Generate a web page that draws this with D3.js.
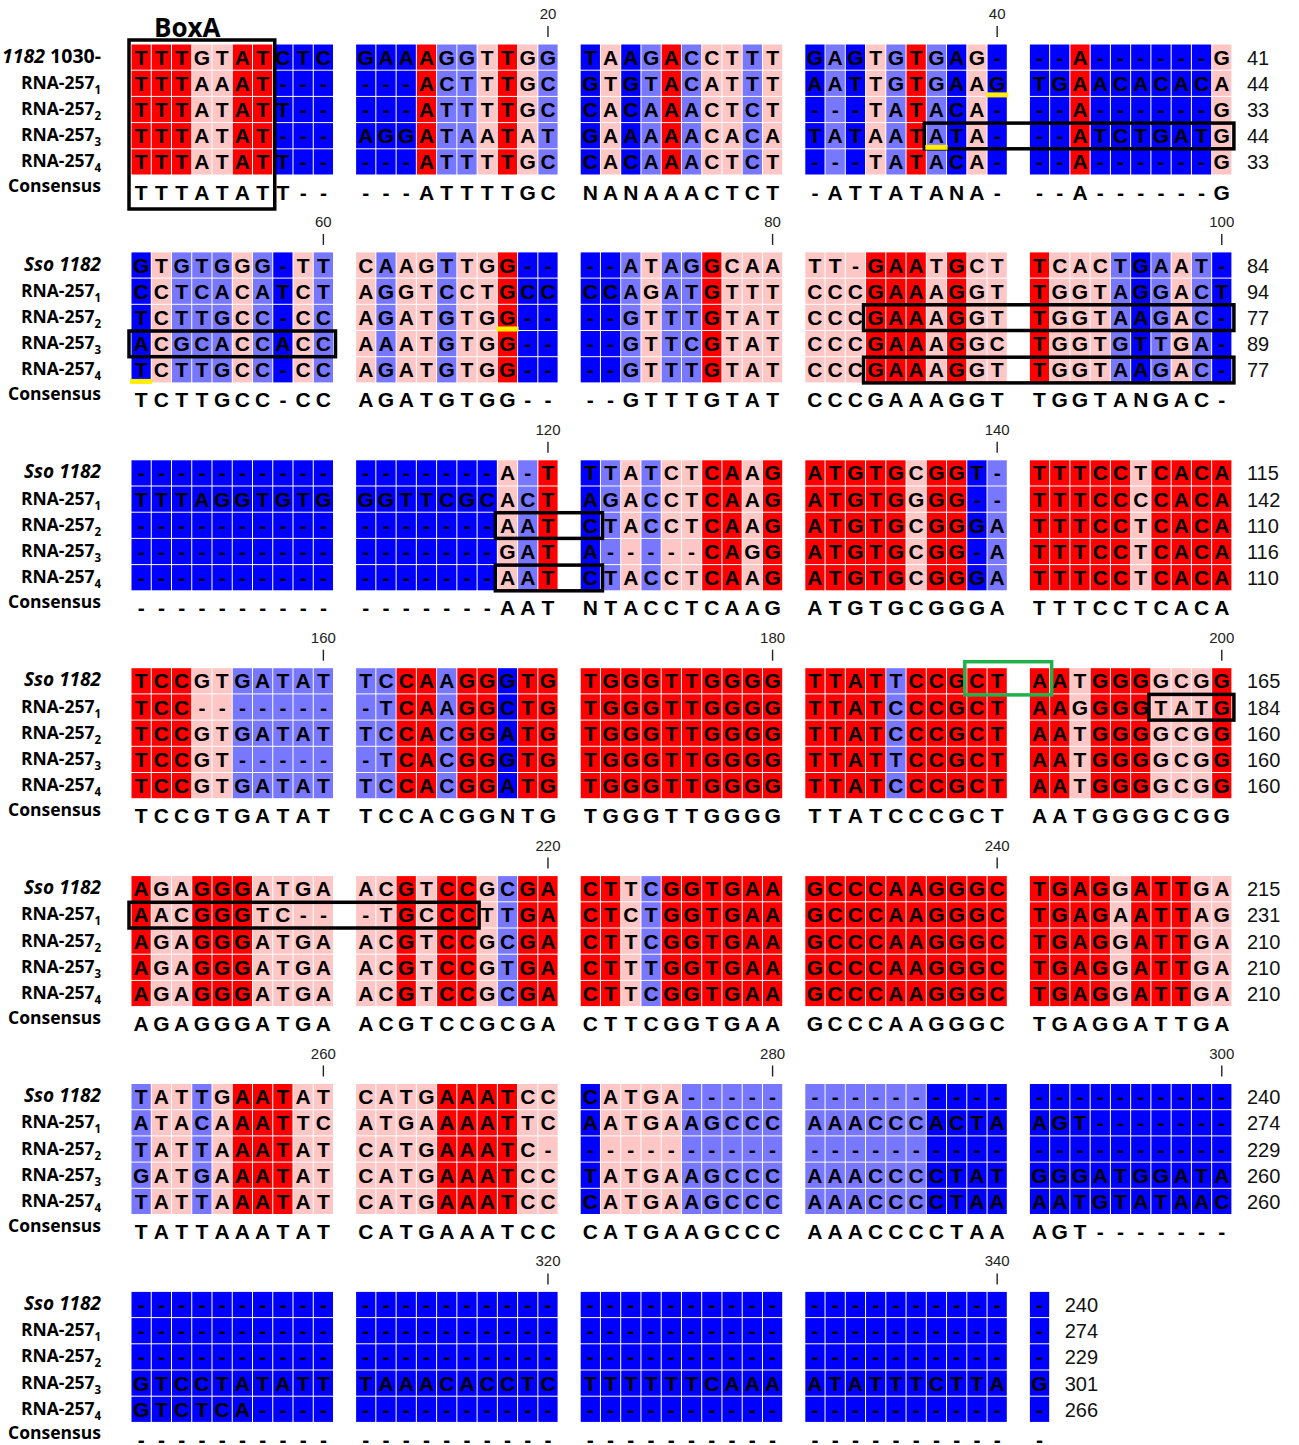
<!DOCTYPE html>
<html>
<head>
<meta charset="utf-8">
<script src="https://cdn.jsdelivr.net/npm/d3@7"></script>
<style>
  body { margin: 0; background: #fff; }
  svg { display: block; }
</style>
</head>
<body>
<script>
// ---- Alignment data: one string per 50-column block, groups of ten separated by spaces ----
const sso1182 = [
  "TTTGTATCTC GAAAGGTTGG TAAGACCTTT GAGTGTGAG- --A------G",
  "GTGTGGG-TT CAAGTTGG-- --ATAGGCAA TT-GAATGCT TCACTGAAT-",
  "---------- -------A-T TTATCTCAAG ATGTGCGGT- TTTCCTCACA",
  "TCCGTGATAT TCCAAGGGTG TGGGTTGGGG TTATTCCGCT AATGGGGCGG",
  "AGAGGGATGA ACGTCCGCGA CTTCGGTGAA GCCCAAGGGC TGAGGATTGA",
  "TATTGAATAT CATGAAATCC CATGA----- ---------- ----------",
  "---------- ---------- ---------- ---------- -"
];
const rna257_1 = [
  "TTTAAAT--- ---ACTTTGC GTGTACATTT AATTGTGAAG TGAACACACA",
  "CCTCACATCT AGGTCCTGCC CCAGATGTTT CCCGAAAGGT TGGTAGGACT",
  "TTTAGGTGTG GGTTCGCACT AGACCTCAAG ATGTGGGG-- TTTCCCCACA",
  "TCC------- -TCAAGGCTG TGGGTTGGGG TTATCCCGCT AAGGGGTATG",
  "AACGGGTC-- -TGCCCTTGA CTCTGGTGAA GCCCAAGGGC TGAGAATTAG",
  "ATACAAATTC ATGAAAATTC AATGAAGCCC AAACCCACTA AGT-------",
  "---------- ---------- ---------- ---------- -"
];
const rna257_2 = [
  "TTTATATT-- ---ATTTTGC CACAAACTCT ---TATACA- --A------G",
  "TCTTGCC-CC AGATGTGG-- --GTTTGTAT CCCGAAAGGT TGGTAAGAC-",
  "---------- -------AAT CTACCTCAAG ATGTGCGGGA TTTCCTCACA",
  "TCCGTGATAT TCCACGGATG TGGGTTGGGG TTATCCCGCT AATGGGGCGG",
  "AGAGGGATGA ACGTCCGCGA CTTCGGTGAA GCCCAAGGGC TGAGGATTGA",
  "TATTAAATAT CATGAAATC- ---------- ---------- ----------",
  "---------- ---------- ---------- ---------- -"
];
const rna257_3 = [
  "TTTATAT--- AGGATAATAT GAAAAACACA TATAATATA- --ATCTGATG",
  "ACGCACCACC AAATGTGG-- --GTTCGTAT CCCGAAAGGC TGGTGTTGA-",
  "---------- -------GAT A-----CAGG ATGTGCGG-A TTTCCTCACA",
  "TCCGT----- -TCACGGGTG TGGGTTGGGG TTATTCCGCT AATGGGGCGG",
  "AGAGGGATGA ACGTCCGTGA CTTTGGTGAA GCCCAAGGGC TGAGGATTGA",
  "GATGAAATAT CATGAAATCC TATGAAGCCC AAACCCCTAT GGGATGGATA",
  "GTCCTATATT TAAACACCTC TTTTTTCAAA ATATTTCTTA G"
];
const rna257_4 = [
  "TTTATATT-- ---ATTTTGC CACAAACTCT ---TATACA- --A------G",
  "TCTTGCC-CC AGATGTGG-- --GTTTGTAT CCCGAAAGGT TGGTAAGAC-",
  "---------- -------AAT CTACCTCAAG ATGTGCGGGA TTTCCTCACA",
  "TCCGTGATAT TCCACGGATG TGGGTTGGGG TTATCCCGCT AATGGGGCGG",
  "AGAGGGATGA ACGTCCGCGA CTTCGGTGAA GCCCAAGGGC TGAGGATTGA",
  "TATTAAATAT CATGAAATCC CATGAAGCCC AAACCCCTAA AATGTATAAC",
  "GTCTCA---- ---------- ---------- ---------- -"
];
const consensus = [
  "TTTATATT-- ---ATTTTGC NANAAACTCT -ATTATANA- --A------G",
  "TCTTGCC-CC AGATGTGG-- --GTTTGTAT CCCGAAAGGT TGGTANGAC-",
  "---------- -------AAT NTACCTCAAG ATGTGCGGGA TTTCCTCACA",
  "TCCGTGATAT TCCACGGNTG TGGGTTGGGG TTATCCCGCT AATGGGGCGG",
  "AGAGGGATGA ACGTCCGCGA CTTCGGTGAA GCCCAAGGGC TGAGGATTGA",
  "TATTAAATAT CATGAAATCC CATGAAGCCC AAACCCCTAA AGT-------",
  "---------- ---------- ---------- ---------- -"
];

const seqNames = ["Sso 1182", "RNA-257", "RNA-257", "RNA-257", "RNA-257"];
const seqSubs  = ["", "1", "2", "3", "4"];
const firstBlockName = ["1182", "1030-"];   // Sso 1182 label used on the first block
const consensusName = "Consensus";

// Boxed regions (1-based alignment columns); row 5 = consensus line
const boxes = [
  { row: 0, rowEnd: 5, from: 1,   to: 7,   color: "#000", label: "BoxA" },
  { row: 3, from: 37,  to: 50,  color: "#000" },
  { row: 3, from: 51,  to: 60,  color: "#000" },
  { row: 2, from: 84,  to: 100, color: "#000" },
  { row: 4, from: 84,  to: 100, color: "#000" },
  { row: 2, from: 118, to: 121, color: "#000" },
  { row: 4, from: 118, to: 121, color: "#000" },
  { row: 0, from: 189, to: 191, color: "#20b04c" },
  { row: 1, from: 197, to: 200, color: "#000" },
  { row: 1, from: 201, to: 216, color: "#000" }
];
// Underlined residues (1-based alignment columns)
const underlines = [
  { row: 1, col: 40 }, { row: 3, col: 37 }, { row: 2, col: 68 }, { row: 4, col: 51 }
];

// ---- Layout ----
const W = 1299, H = 1445;
const PER_BLOCK = 50, PER_GROUP = 10;
const CELL_W = 20.25, ROW_H = 26.2;

const seqs = [sso1182, rna257_1, rna257_2, rna257_3, rna257_4]
  .map(b => b.join("").replace(/\s+/g, ""));
const cons = consensus.join("").replace(/\s+/g, "");
const nCols = d3.max(seqs, s => s.length);
const nBlocks = Math.ceil(nCols / PER_BLOCK);
const nRows = seqs.length;

const xGroup = d3.scaleLinear().domain([0, 5]).range([131, 131 + 5 * 224.6]);
const xCell = d3.scaleLinear().domain([0, PER_GROUP]).range([0, PER_GROUP * CELL_W]);
const yBlock = d3.scaleLinear().domain([0, 7]).range([44, 44 + 7 * 207.9]);
const yRow = d3.scaleBand().domain(d3.range(nRows)).range([0, nRows * ROW_H]);

const colX = i => {
  const w = i % PER_BLOCK;
  return xGroup(Math.floor(w / PER_GROUP)) + xCell(w % PER_GROUP);
};
const colBlock = i => Math.floor(i / PER_BLOCK);
const rowY = (b, r) => yBlock(b) + yRow(r);
const consY = b => yBlock(b) + nRows * ROW_H + 17;   // centre of consensus line

// Conservation: size of the largest identical (non-gap) residue class per column
const cols = d3.range(nCols);
const identity = cols.map(i => {
  const res = seqs.map(s => s[i]).filter(c => c && c !== "-");
  const counts = d3.rollup(res, v => v.length, d => d);
  return counts.size ? d3.max(counts.values()) : 0;
});
const fill = d3.scaleThreshold().domain([3, 4, 5])
  .range(["#0000ff", "#7777ff", "#ffc6c6", "#ff0000"]);

const svg = d3.select("body").append("svg").attr("width", W).attr("height", H)
  .style("font-family", "'Liberation Sans', Arial, sans-serif");

// ---- Cells ----
const cells = [];
seqs.forEach((s, r) => cols.forEach(i => cells.push({ r, i, ch: s[i] || "-" })));

const gCells = svg.append("g");
gCells.selectAll("rect").data(cells).join("rect")
  .attr("x", d => colX(d.i) + 0.5)
  .attr("y", d => rowY(colBlock(d.i), d.r) + 0.5)
  .attr("width", CELL_W - 1)
  .attr("height", ROW_H - 1)
  .attr("fill", d => fill(identity[d.i]));

gCells.selectAll("text").data(cells).join("text")
  .attr("x", d => colX(d.i) + CELL_W / 2)
  .attr("y", d => rowY(colBlock(d.i), d.r) + ROW_H / 2 + 7.5)
  .attr("text-anchor", "middle")
  .attr("font-size", 21)
  .attr("font-weight", "bold")
  .attr("fill", "#000")
  .text(d => d.ch);

// ---- Consensus line ----
svg.append("g").selectAll("text").data(cols).join("text")
  .attr("x", i => colX(i) + CELL_W / 2)
  .attr("y", i => consY(colBlock(i)) + 7.5)
  .attr("text-anchor", "middle")
  .attr("font-size", 21)
  .attr("font-weight", "bold")
  .attr("fill", "#000")
  .text(i => cons[i] || "-");

// ---- Position ticks every 20 columns ----
const ticks = cols.filter(i => (i + 1) % 20 === 0);
const gTicks = svg.append("g").attr("fill", "#222");
gTicks.selectAll("text").data(ticks).join("text")
  .attr("x", i => colX(i) + CELL_W / 2)
  .attr("y", i => yBlock(colBlock(i)) - 25)
  .attr("text-anchor", "middle")
  .attr("font-size", 15)
  .text(i => i + 1);
gTicks.selectAll("line").data(ticks).join("line")
  .attr("x1", i => colX(i) + CELL_W / 2).attr("x2", i => colX(i) + CELL_W / 2)
  .attr("y1", i => yBlock(colBlock(i)) - 18)
  .attr("y2", i => yBlock(colBlock(i)) - 7)
  .attr("stroke", "#222").attr("stroke-width", 1.4);

// ---- Running residue counts at the end of each block ----
const blocks = d3.range(nBlocks);
const endCounts = [];
blocks.forEach(b => {
  const last = Math.min((b + 1) * PER_BLOCK, nCols) - 1;
  seqs.forEach((s, r) => endCounts.push({
    b, r, last,
    n: s.slice(0, last + 1).replace(/-/g, "").length
  }));
});
svg.append("g").selectAll("text").data(endCounts).join("text")
  .attr("x", d => colX(d.last) + CELL_W + 15)
  .attr("y", d => rowY(d.b, d.r) + ROW_H / 2 + 7.5)
  .attr("font-size", 20)
  .attr("fill", "#111")
  .text(d => d.n);

// ---- Row labels ----
const labelFont = "'Open Sans', 'Noto Sans', sans-serif";
const gLab = svg.append("g").style("font-family", labelFont)
  .attr("font-weight", "bold").attr("font-size", 17.5).attr("fill", "#000");
blocks.forEach(b => {
  seqNames.forEach((name, r) => {
    const t = gLab.append("text")
      .attr("x", 101)
      .attr("y", rowY(b, r) + ROW_H / 2 + 5.5)
      .attr("text-anchor", "end");
    if (r === 0 && b === 0) {
      t.attr("font-size", 19.5);
      t.append("tspan").attr("font-style", "italic").text(firstBlockName[0]);
      t.append("tspan").text("\u00a0" + firstBlockName[1]);
    } else if (r === 0) {
      t.attr("font-style", "italic").attr("font-size", 19).text(name);
    } else {
      t.append("tspan").text(name);
      t.append("tspan").attr("font-size", 11.5).attr("dy", 5).text(seqSubs[r]);
    }
  });
  gLab.append("text")
    .attr("x", 101).attr("y", consY(b) + 0)
    .attr("text-anchor", "end")
    .text(consensusName);
});

// ---- Boxed regions ----
const gBox = svg.append("g").attr("fill", "none");
boxes.forEach(bx => {
  const i0 = bx.from - 1, i1 = bx.to - 1, b = colBlock(i0);
  const x0 = colX(i0) - 2, x1 = colX(i1) + CELL_W + 2;
  let y0, y1;
  if (bx.rowEnd === 5) {
    y0 = rowY(b, bx.row) - 4;
    y1 = consY(b) + 17;
  } else if (bx.color !== "#000") {
    y0 = rowY(b, bx.row) - 6;
    y1 = rowY(b, bx.row) + ROW_H + 1;
  } else {
    y0 = rowY(b, bx.row) + 0.5;
    y1 = rowY(b, bx.row) + ROW_H;
  }
  gBox.append("rect")
    .attr("x", x0).attr("y", y0)
    .attr("width", x1 - x0).attr("height", y1 - y0)
    .attr("stroke", bx.color).attr("stroke-width", 3.5);
  if (bx.label) {
    svg.append("text")
      .attr("x", x0 + 25).attr("y", y0 - 3)
      .style("font-family", labelFont)
      .attr("font-weight", "bold").attr("font-size", 26)
      .text(bx.label);
  }
});

// ---- Underline marks ----
svg.append("g").selectAll("rect").data(underlines).join("rect")
  .attr("x", d => colX(d.col - 1) - 1)
  .attr("y", d => rowY(colBlock(d.col - 1), d.row) + ROW_H - 4)
  .attr("width", CELL_W + 2)
  .attr("height", 5)
  .attr("fill", "#ffee00");
</script>
</body>
</html>
